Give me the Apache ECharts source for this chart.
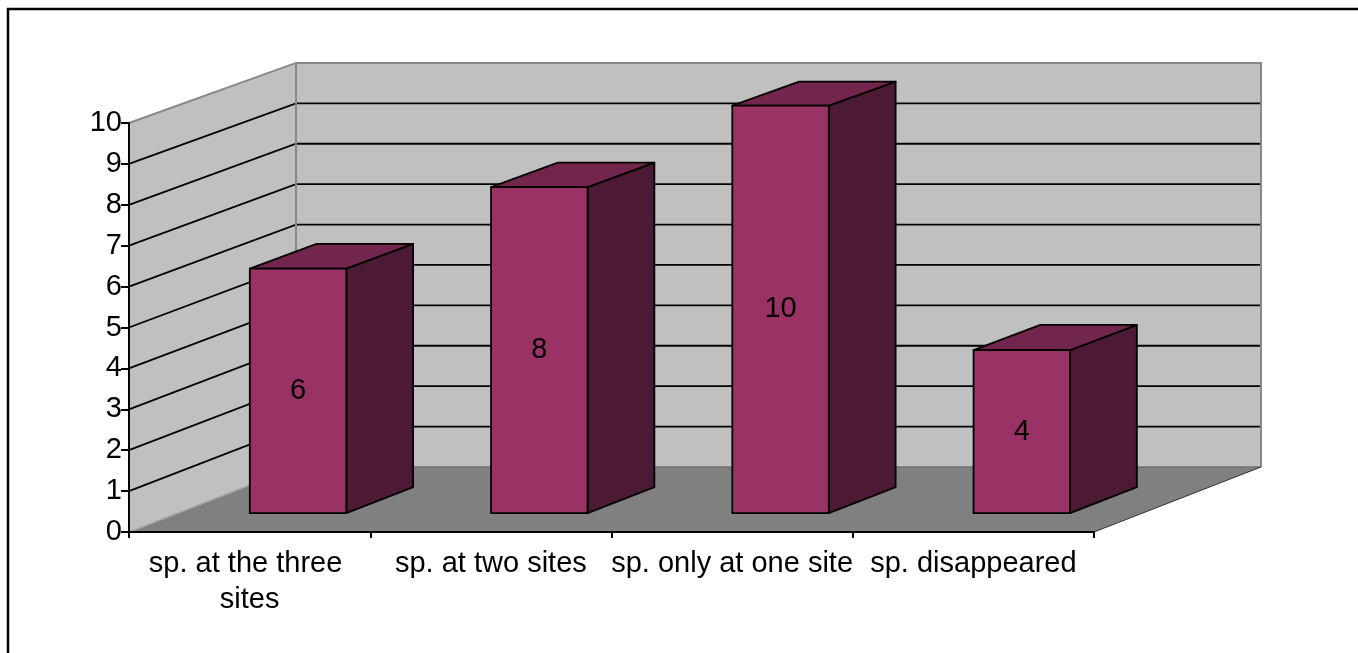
<!DOCTYPE html>
<html><head><meta charset="utf-8">
<script src="https://cdn.jsdelivr.net/npm/echarts@6/dist/echarts.min.js"></script>
<style>html,body{margin:0;padding:0;background:#fff}#c{width:1358px;height:653px}</style>
</head><body><div id="c"></div>
<script>
const categories = ['sp. at the three sites', 'sp. at two sites', 'sp. only at one site', 'sp. disappeared'];
const values = [6, 8, 10, 4];
const yTicks = [0, 1, 2, 3, 4, 5, 6, 7, 8, 9, 10];

const DX = 167, DY = 65, SHRINK = 0.012;
const Z1 = 0.29, Z2 = 0.69;
const BAR_FRAC = 0.4;
const FONT = '"Liberation Sans", Arial, sans-serif';
const FS = 29;

function proj(pt, z, y0) {
  return [pt[0] + z * DX, y0 - z * DY - (y0 - pt[1]) * (1 - z * SHRINK)];
}

function renderWalls(params, api) {
  const cs = params.coordSys;
  const xl = cs.x, xr = cs.x + cs.width;
  const y0 = api.coord([0, yTicks[0]])[1];
  const yTop = api.coord([0, yTicks[yTicks.length - 1]])[1];
  const fl = [xl, y0], fr = [xr, y0], tl = [xl, yTop];
  const bl = proj(fl, 1, y0), br = proj(fr, 1, y0), btl = proj(tl, 1, y0), btr = proj([xr, yTop], 1, y0);
  const children = [
    { type: 'polygon', shape: { points: [tl, btl, bl, fl] }, style: { fill: '#c0c0c0' } },
    { type: 'polygon', shape: { points: [btl, btr, br, bl] }, style: { fill: '#c0c0c0' } },
    { type: 'polygon', shape: { points: [fl, bl, br, fr] }, style: { fill: '#808080' } }
  ];
  for (let i = 1; i < yTicks.length - 1; i++) {
    const y = api.coord([0, yTicks[i]])[1];
    const f = [xl, y];
    const b = proj(f, 1, y0);
    const b2 = proj([xr, y], 1, y0);
    children.push({ type: 'polyline', shape: { points: [f, b, b2] }, style: { stroke: '#000', lineWidth: 1.8, fill: null } });
  }
  children.push({ type: 'polyline', shape: { points: [tl, btl, btr, br] }, style: { stroke: '#888', lineWidth: 2, fill: null } });
  children.push({ type: 'line', shape: { x1: btl[0], y1: btl[1], x2: bl[0], y2: bl[1] }, style: { stroke: '#888', lineWidth: 2 } });
  children.push({ type: 'line', shape: { x1: fl[0], y1: fl[1], x2: bl[0], y2: bl[1] }, style: { stroke: '#a8a8a8', lineWidth: 1.5 } });
  children.push({ type: 'line', shape: { x1: bl[0], y1: bl[1], x2: br[0], y2: br[1] }, style: { stroke: '#707070', lineWidth: 1.5 } });
  children.push({ type: 'line', shape: { x1: fr[0], y1: fr[1], x2: br[0], y2: br[1] }, style: { stroke: '#333', lineWidth: 1 } });
  return { type: 'group', children: children };
}

function renderBar(params, api) {
  const idx = api.value(0), v = api.value(1);
  const top = api.coord([idx, v]), bot = api.coord([idx, 0]);
  const y0 = bot[1];
  const w = api.size([1, 0])[0] * BAR_FRAC;
  const xL = top[0] - w / 2, xR = top[0] + w / 2;
  const P = (x, y, z) => proj([x, y], z, y0);
  const fTL = P(xL, top[1], Z1), fTR = P(xR, top[1], Z1), fBL = P(xL, y0, Z1), fBR = P(xR, y0, Z1);
  const bTL = P(xL, top[1], Z2), bTR = P(xR, top[1], Z2), bBR = P(xR, y0, Z2);
  const edge = { stroke: '#000', lineWidth: 1.8, lineJoin: 'round' };
  return {
    type: 'group',
    children: [
      { type: 'polygon', shape: { points: [fTR, bTR, bBR, fBR] }, style: Object.assign({ fill: '#4d1a35' }, edge) },
      { type: 'polygon', shape: { points: [fTL, bTL, bTR, fTR] }, style: Object.assign({ fill: '#73264d' }, edge) },
      { type: 'polygon', shape: { points: [fTL, fTR, fBR, fBL] }, style: Object.assign({ fill: '#993366' }, edge) },
      { type: 'text', style: { text: String(v), x: (fTL[0] + fTR[0]) / 2, y: (fTL[1] + fBL[1]) / 2,
        align: 'center', verticalAlign: 'middle', fontSize: FS, fontFamily: FONT, fill: '#000' } }
    ]
  };
}

const chart = echarts.init(document.getElementById('c'), null, { renderer: 'canvas' });
chart.setOption({
  animation: false,
  backgroundColor: '#fff',
  graphic: [{ type: 'rect', shape: { x: 8, y: 9, width: 1400, height: 700 }, style: { fill: null, stroke: '#000', lineWidth: 2.5 }, z: 100 }],
  grid: { left: 129, right: 264, top: 123, bottom: 121 },
  xAxis: {
    type: 'category', data: categories, boundaryGap: true, z: 5,
    axisLine: { show: true, lineStyle: { color: '#000', width: 2 } },
    axisTick: { show: true, length: 6, lineStyle: { color: '#000', width: 2 } },
    axisLabel: { interval: 0, fontSize: FS, fontFamily: FONT, color: '#000', margin: 14, lineHeight: 36, width: 250, overflow: 'break' },
    splitLine: { show: false }
  },
  yAxis: {
    type: 'value', min: yTicks[0], max: yTicks[yTicks.length - 1], interval: 1, z: 5,
    axisLine: { show: true, lineStyle: { color: '#000', width: 2 } },
    axisTick: { show: true, length: 8, lineStyle: { color: '#000', width: 2 } },
    axisLabel: { fontSize: FS, fontFamily: FONT, color: '#000', margin: 7 },
    splitLine: { show: false }
  },
  series: [
    { type: 'custom', name: 'walls', renderItem: renderWalls, data: [[0, 0]], encode: { x: 0, y: 1 }, clip: false, silent: true, z: 1 },
    { type: 'custom', name: 'bars', renderItem: renderBar, data: values.map((v, i) => [i, v]), encode: { x: 0, y: 1 }, clip: false, silent: true, z: 3 }
  ]
});
</script>
</body></html>
